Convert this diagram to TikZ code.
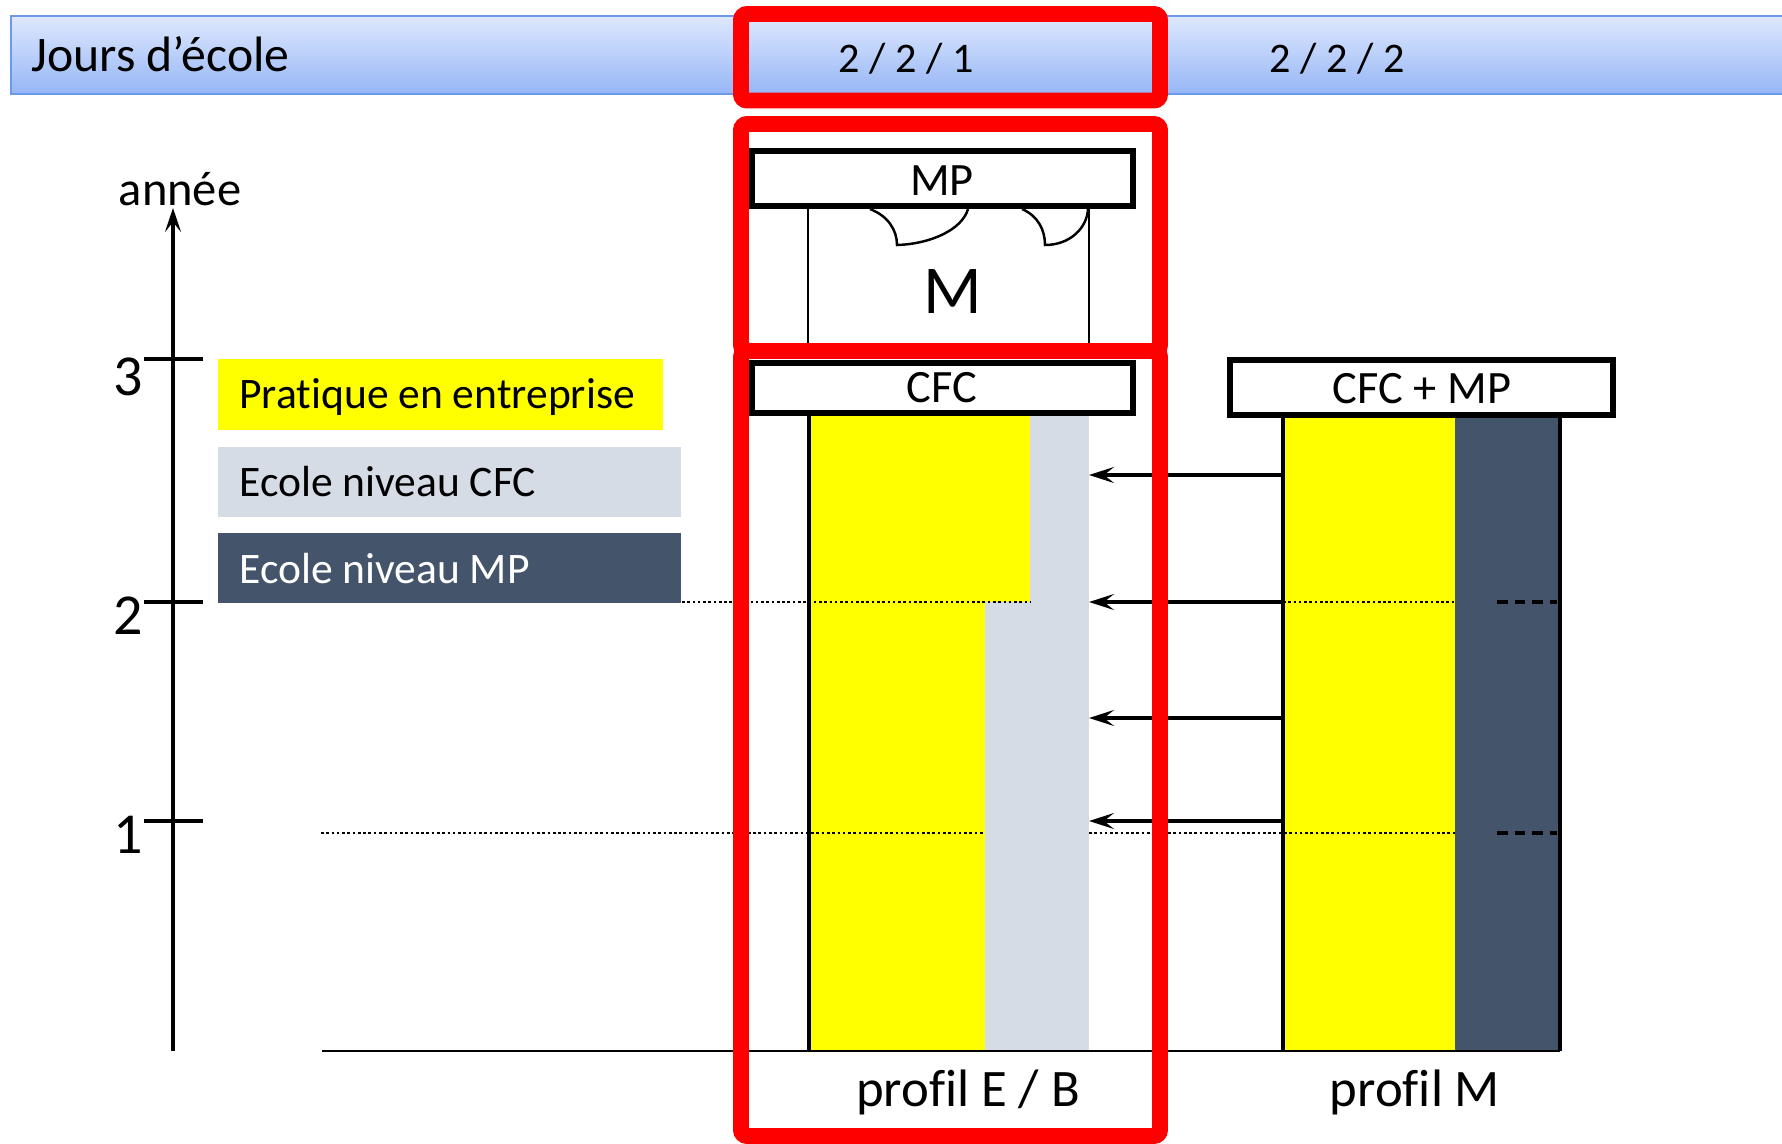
\documentclass[tikz,border=0pt]{standalone}
\usepackage{fontspec}
\setmainfont{Carlito}[Ligatures=NoCommon]
\usetikzlibrary{arrows.meta, positioning}

\definecolor{barTop}{RGB}{222,232,253}
\definecolor{barBottom}{RGB}{150,182,246}
\definecolor{barLine}{RGB}{108,153,232}
\definecolor{cfcGray}{HTML}{D6DCE5}
\definecolor{mpSlate}{HTML}{44546A}
\definecolor{pureYellow}{RGB}{255,255,0}

\begin{document}
\begin{tikzpicture}[x=0.02cm, y=-0.02cm,
    headbox/.style={draw=black, line width=3.2pt, fill=white},
    profarrow/.style={line width=1.8pt, -{Stealth[length=0.5cm, width=0.32cm, inset=0.2cm]}},
    dotline/.style={line width=1.6pt, dash pattern=on 1.5pt off 1.5pt},
    dashline/.style={line width=1.8pt, dash pattern=on 6pt off 4pt},
    redbox/.style={red, line width=9pt, rounded corners=0.12cm}]
\useasboundingbox (0,0) rectangle (1782,1143);

% bandeau jours d'ecole
\shade[top color=barTop, bottom color=barBottom] (11,16) rectangle (1782,94);
\draw[barLine, line width=0.8pt] (1782,16) -- (11,16) -- (11,94) -- (1782,94);
\node[anchor=base west, inner sep=0, font=\fontsize{28.3}{30}\selectfont] (jours) at (31,71) {Jours d’école};
\node[anchor=base, inner sep=0, font=\fontsize{24}{28}\selectfont] (jeb) at (906,72) {2 / 2 / 1};
\node[anchor=base, inner sep=0, font=\fontsize{24}{28}\selectfont] (jm) at (1337,72) {2 / 2 / 2};

% legende
\fill[pureYellow] (218,359) rectangle (663,430);
\node[anchor=base west, inner sep=0, font=\fontsize{24.8}{28}\selectfont] (legPE) at (239,408) {Pratique en entreprise};
\fill[cfcGray] (218,447) rectangle (681,517);
\node[anchor=base west, inner sep=0, font=\fontsize{24.8}{28}\selectfont] (legCFC) at (239,496) {Ecole niveau CFC};
\fill[mpSlate] (218,533) rectangle (681,603);
\node[anchor=base west, inner sep=0, text=white, font=\fontsize{24.8}{28}\selectfont] (legMP) at (239,583) {Ecole niveau MP};

% axe des annees
\coordinate (axisBase) at (173,1051);
\coordinate (axisTop) at (173,208);
\draw[line width=2pt, -{Stealth[length=0.48cm, width=0.32cm, inset=0.2cm]}] (axisBase) -- (axisTop);
\node[anchor=base, inner sep=0, font=\fontsize{27.6}{30}\selectfont] (annee) at (180,205) {année};
\foreach \y/\b/\t in {359/395/3, 602/634/2, 821/853/1} {
    \draw[line width=2pt] (144,\y) -- (203,\y);
    \node[anchor=base east, inner sep=0, font=\fontsize{33}{36}\selectfont] (year\t) at (143,\b) {\t};
}

% profil E / B
\fill[pureYellow] (809,416) rectangle (1030,602);
\fill[pureYellow] (809,602) rectangle (985,1051);
\fill[cfcGray] (1030,416) rectangle (1089,602);
\fill[cfcGray] (985,602) rectangle (1089,1051);
\draw[line width=1.8pt] (809,416) -- (809,1051);

% profil M
\fill[pureYellow] (1283,416) rectangle (1455,1051);
\fill[mpSlate] (1455,416) rectangle (1560,1051);
\draw[line width=1.8pt] (1283,416) -- (1283,1051);
\draw[line width=1.8pt] (1560,416) -- (1560,1051);

\draw[line width=1.5pt] (322,1051) -- (1560,1051);

% lignes des annees
\draw[dotline] (682,602) -- (1030,602);
\draw[dotline] (1283,602) -- (1455,602);
\draw[dashline] (1497,602) -- (1557,602);
\draw[dotline] (321,833) -- (985,833);
\draw[dotline] (1089,833) -- (1455,833);
\draw[dashline] (1497,833) -- (1557,833);

\foreach \y [count=\i] in {475,602,718,821} {
    \coordinate (fromM\i) at (1283,\y);
    \coordinate (toEB\i) at (1089,\y);
    \draw[profarrow] (fromM\i) -- (toEB\i);
}

% MP apres CFC
\draw[line width=1.5pt] (808,206) -- (808,347);
\draw[line width=1.5pt] (1089,206) -- (1089,347);
\draw[line width=1.4pt] (870,209) .. controls (888,216) and (897,230) .. (897,245)
    .. controls (930,244) and (962,230) .. (968,209);
\draw[line width=1.4pt] (1022,209) .. controls (1038,216) and (1045,230) .. (1045,245)
    .. controls (1070,245) and (1087,228) .. (1088,209);
\node[anchor=base, inner sep=0, font=\fontsize{39}{42}\selectfont] (bigM) at (953,313) {M};
\draw[headbox] (752,151) rectangle (1133,206);
\node[anchor=base, inner sep=0, font=\fontsize{26.4}{30}\selectfont] (mpHead) at (942,195) {MP};

\draw[headbox] (752,363) rectangle (1133,413);
\node[anchor=base, inner sep=0, font=\fontsize{26.4}{30}\selectfont] (cfcHead) at (942,402) {CFC};
\draw[headbox] (1230,360) rectangle (1613,415);
\node[anchor=base, inner sep=0, font=\fontsize{26.4}{30}\selectfont] (cfcmpHead) at (1422,403) {CFC + MP};

\node[anchor=base, inner sep=0, font=\fontsize{30}{32}\selectfont] (profEB) at (968,1106) {profil E / B};
\node[anchor=base, inner sep=0, font=\fontsize{30}{32}\selectfont] (profM) at (1415,1106) {profil M};

% cadres rouges
\draw[redbox] (741,14) rectangle (1160,100.5);
\draw[redbox] (741,124) rectangle (1160,351);
\draw[redbox] (741,351) rectangle (1160,1136);

\end{tikzpicture}
\end{document}
